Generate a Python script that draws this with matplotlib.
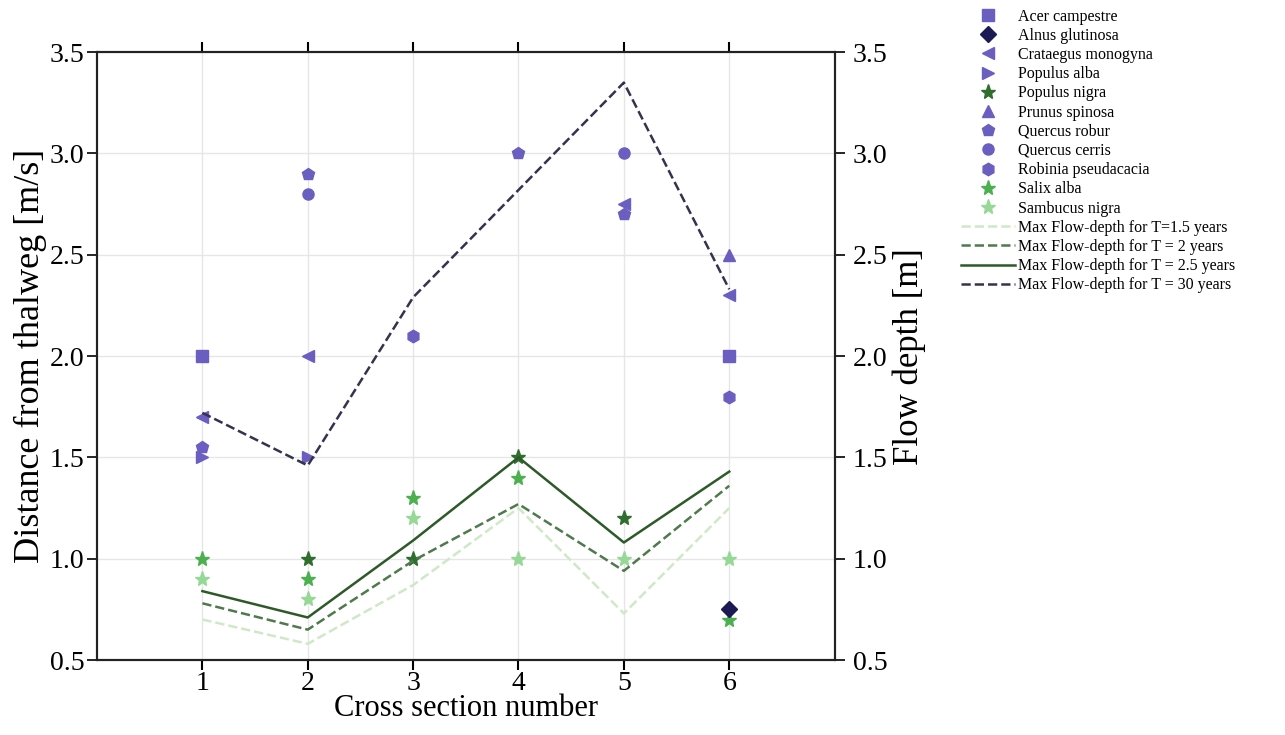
import matplotlib.pyplot as plt
import numpy as np

plt.rcParams['font.family'] = ['Liberation Serif', 'DejaVu Serif']

# species points: (cross section, distance from thalweg)
acer_x = [1, 6]
acer_y = [2.0, 2.0]
alnus_x = [6]
alnus_y = [0.75]
crataegus_x = [1, 2, 5, 6]
crataegus_y = [1.7, 2.0, 2.75, 2.3]
populus_alba_x = [1, 2]
populus_alba_y = [1.5, 1.5]
populus_nigra_x = [2, 3, 4, 5]
populus_nigra_y = [1.0, 1.0, 1.5, 1.2]
prunus_x = [6]
prunus_y = [2.5]
q_robur_x = [1, 2, 4, 5]
q_robur_y = [1.55, 2.9, 3.0, 2.7]
q_cerris_x = [2, 5]
q_cerris_y = [2.8, 3.0]
robinia_x = [3, 6]
robinia_y = [2.1, 1.8]
salix_x = [1, 2, 3, 4, 6]
salix_y = [1.0, 0.9, 1.3, 1.4, 0.7]
sambucus_x = [1, 2, 3, 4, 5, 6]
sambucus_y = [0.9, 0.8, 1.2, 1.0, 1.0, 1.0]

# max flow depth per return period
sections = [1, 2, 3, 4, 5, 6]
depth_t15 = [0.70, 0.58, 0.87, 1.25, 0.73, 1.25]
depth_t2 = [0.78, 0.65, 0.99, 1.27, 0.94, 1.36]
depth_t25 = [0.84, 0.71, 1.09, 1.50, 1.08, 1.43]
depth_t30 = [1.72, 1.46, 2.29, 2.82, 3.35, 2.33]

purple = '#6a5fc0'
fig = plt.figure(figsize=(12.85, 7.35), dpi=100)
ax = fig.add_axes([0.0755, 0.102, 0.574, 0.827])
ax2 = ax.twinx()

ms = 9
h = []
h += ax.plot(acer_x, acer_y, 's', color=purple, ms=ms - 1, label='Acer campestre', zorder=3)
h += ax.plot(crataegus_x, crataegus_y, '<', color=purple, ms=ms, label='Crataegus monogyna', zorder=3)
h += ax.plot(populus_alba_x, populus_alba_y, '>', color=purple, ms=ms, label='Populus alba', zorder=3)
h += ax.plot(populus_nigra_x, populus_nigra_y, '*', color='#2f6e2f', ms=ms + 2, label='Populus nigra', zorder=3)
h += ax.plot(prunus_x, prunus_y, '^', color=purple, ms=ms, label='Prunus spinosa', zorder=3)
h += ax.plot(q_robur_x, q_robur_y, 'p', color=purple, ms=ms, label='Quercus robur', zorder=3)
h += ax.plot(q_cerris_x, q_cerris_y, 'o', color=purple, ms=ms - 1, label='Quercus cerris', zorder=3)
h += ax.plot(robinia_x, robinia_y, 'h', color=purple, ms=ms, label='Robinia pseudacacia', zorder=3)
h += ax.plot(salix_x, salix_y, '*', color='#4cb050', ms=ms + 2, label='Salix alba', zorder=3)
h += ax.plot(sambucus_x, sambucus_y, '*', color='#96d896', ms=ms + 2, label='Sambucus nigra', zorder=3)
h_alnus = ax.plot(alnus_x, alnus_y, 'D', color='#1c1a55', ms=ms - 1, label='Alnus glutinosa', zorder=4)
h.insert(1, h_alnus[0])

l1 = ax2.plot(sections, depth_t15, '--', color='#cfe8c8', lw=1.8, label='Max Flow-depth for T=1.5 years')
l2 = ax2.plot(sections, depth_t2, '--', color='#4e7a4c', lw=1.8, label='Max Flow-depth for T = 2 years')
l3 = ax2.plot(sections, depth_t25, '-', color='#2c5a28', lw=1.8, label='Max Flow-depth for T = 2.5 years')
l4 = ax2.plot(sections, depth_t30, '--', color='#35324e', lw=1.8, label='Max Flow-depth for T = 30 years')
h += l1 + l2 + l3 + l4

for a in (ax, ax2):
    a.set_xlim(0, 7)
    a.set_ylim(0.5, 3.5)
    a.set_yticks([0.5, 1.0, 1.5, 2.0, 2.5, 3.0, 3.5])
    a.set_yticklabels(['0.5', '1.0', '1.5', '2.0', '2.5', '3.0', '3.5'])
    for s in a.spines.values():
        s.set_linewidth(1.5)
        s.set_color('#222222')

ax.set_xticks(sections)
ax.tick_params(axis='x', which='both', top=True, direction='out', length=7, width=1.5,
               labelsize=20, pad=1)
ax.tick_params(axis='y', direction='out', length=7, width=1.2, labelsize=20, pad=2)
ax2.tick_params(axis='y', direction='out', length=7, width=1.2, labelsize=20, pad=6)
ax.grid(True, color='#e6e6e6', lw=1)
ax.set_axisbelow(True)

ax.set_xlabel('Cross section number', fontsize=22)
ax.xaxis.set_label_coords(0.5, -0.056)
ax.set_ylabel('Distance from thalweg [m/s]', fontsize=26, labelpad=2)
ax2.set_ylabel('Flow depth [m]', fontsize=25, labelpad=4)

fig.legend(handles=h, loc='upper left', bbox_to_anchor=(0.743, 0.997),
           frameon=False, fontsize=11.5, handlelength=3.4, labelspacing=0.2,
           handletextpad=0.15, borderaxespad=0)

fig.savefig('out.png', dpi=100)
